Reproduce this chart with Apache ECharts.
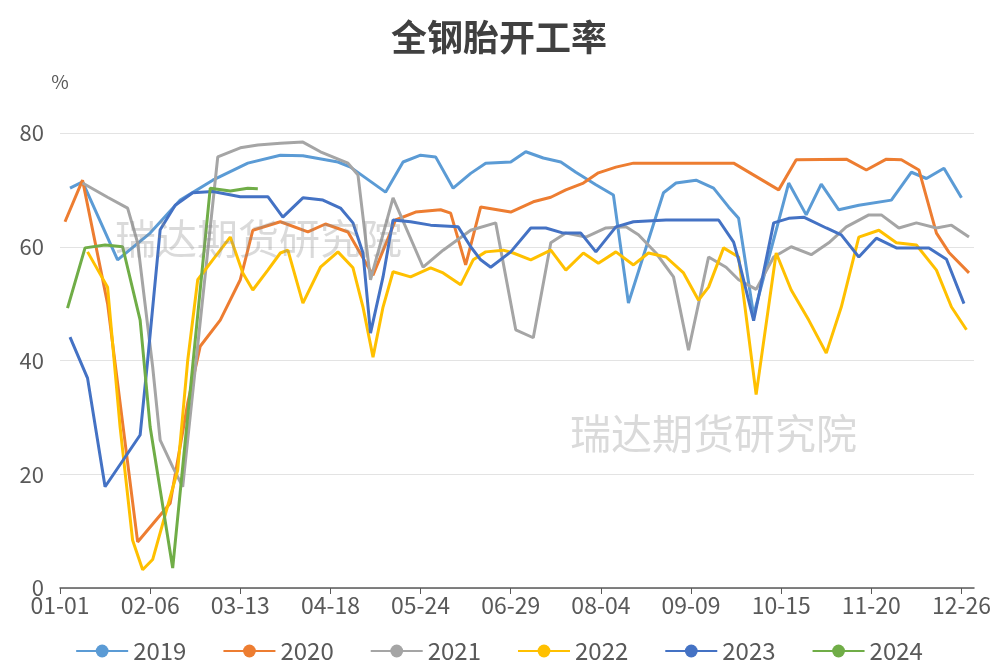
<!DOCTYPE html>
<html><head><meta charset="utf-8">
<script src="https://cdn.jsdelivr.net/npm/echarts@6/dist/echarts.min.js"></script>
<style>html,body{margin:0;padding:0;background:#fff}#c{width:998px;height:666px}</style>
</head><body><div id="c"></div>
<script>
const title = '全钢胎开工率';
const seriesNames = ['2019','2020','2021','2022','2023','2024'];
const monthDays = [31,29,31,30,31,30,31,31,30,31,30,31];
const yTicks = [0,20,40,60,80];

const s2019 = [['01-05',70.3],['01-10',71.4],['01-24',57.7],['02-06',62.4],['02-18',68.2],['03-02',71.7],['03-16',74.7],['03-29',76.1],['04-07',76.0],['04-21',74.9],['04-26',74.0],['05-10',69.6],['05-17',74.9],['05-24',76.1],['05-30',75.8],['06-06',70.3],['06-13',72.9],['06-19',74.7],['06-29',74.9],['07-05',76.7],['07-12',75.6],['07-19',74.9],['07-25',73.1],['08-02',70.9],['08-09',69.1],['08-15',50.1],['08-29',69.5],['09-03',71.2],['09-11',71.7],['09-18',70.3],['09-24',67.0],['09-28',65.0],['10-04',48.0],['10-18',71.2],['10-25',65.6],['10-31',71.0],['11-07',66.5],['11-15',67.3],['11-28',68.2],['12-06',73.1],['12-12',72.0],['12-19',73.8],['12-26',68.6]];
const s2020 = [['01-03',64.4],['01-10',71.7],['01-20',50.0],['02-01',8.1],['02-14',14.9],['02-21',32.5],['02-26',42.5],['03-05',47.1],['03-13',54.2],['03-18',62.9],['03-29',64.4],['04-09',62.6],['04-16',64.0],['04-25',62.6],['05-05',55.0],['05-14',64.7],['05-22',66.1],['06-01',66.5],['06-05',65.9],['06-11',56.8],['06-17',67.0],['06-29',66.1],['07-08',67.9],['07-15',68.7],['07-21',70.0],['07-28',71.2],['08-03',73.0],['08-10',74.0],['08-17',74.7],['08-30',74.7],['09-12',74.7],['09-26',74.7],['10-14',70.0],['10-21',75.3],['11-10',75.4],['11-18',73.5],['11-26',75.4],['12-02',75.3],['12-09',73.5],['12-16',62.4],['12-21',59.0],['12-29',55.4]];
const s2021 = [['01-10',71.2],['01-20',68.7],['01-28',66.8],['02-01',60.7],['02-07',38.9],['02-10',26.0],['02-15',21.3],['02-19',17.8],['03-04',75.8],['03-13',77.4],['03-20',77.9],['03-29',78.2],['04-07',78.4],['04-14',76.7],['04-25',74.7],['04-29',72.6],['05-04',54.2],['05-13',68.6],['05-25',56.4],['06-02',59.4],['06-13',62.9],['06-23',64.2],['07-01',45.4],['07-08',44.0],['07-15',60.7],['07-21',62.4],['07-29',61.7],['08-06',63.3],['08-14',63.5],['08-19',62.1],['08-26',58.9],['09-02',54.7],['09-08',41.8],['09-16',58.2],['09-23',56.4],['09-28',54.2],['10-05',52.5],['10-12',58.2],['10-19',60.0],['10-27',58.6],['11-03',60.7],['11-10',63.5],['11-19',65.6],['11-24',65.6],['12-01',63.3],['12-08',64.2],['12-16',63.3],['12-22',63.8],['12-29',61.7]];
const s2022 = [['01-12',59.1],['01-20',52.9],['01-25',28.3],['01-30',8.4],['02-03',3.2],['02-07',5.0],['02-17',20.7],['02-21',40.0],['02-25',54.2],['03-02',57.7],['03-09',61.7],['03-14',55.4],['03-18',52.4],['03-24',55.9],['03-29',58.9],['04-01',59.4],['04-07',50.1],['04-14',56.4],['04-21',59.1],['04-27',56.3],['05-01',49.4],['05-05',40.6],['05-09',49.4],['05-13',55.6],['05-20',54.7],['05-28',56.3],['06-02',55.4],['06-09',53.3],['06-14',57.7],['06-19',59.1],['06-26',59.4],['06-30',58.9],['07-07',57.7],['07-15',59.4],['07-21',55.9],['07-28',58.9],['08-03',57.1],['08-10',59.1],['08-17',56.8],['08-23',58.9],['08-30',58.2],['09-06',55.4],['09-12',50.6],['09-16',52.9],['09-22',59.8],['09-28',58.2],['10-05',34.0],['10-13',58.9],['10-19',52.4],['10-26',47.1],['11-02',41.3],['11-08',49.4],['11-15',61.7],['11-23',62.9],['11-30',60.7],['12-08',60.3],['12-16',55.9],['12-22',49.4],['12-28',45.4]];
const s2023 = [['01-05',44.1],['01-12',36.9],['01-19',17.8],['02-02',26.9],['02-05',40.0],['02-10',63.0],['02-16',67.3],['02-23',69.5],['03-02',69.7],['03-13',68.8],['03-24',68.8],['03-30',65.2],['04-07',68.6],['04-15',68.2],['04-22',66.8],['04-27',64.2],['05-01',58.9],['05-04',44.8],['05-09',54.7],['05-13',64.7],['05-20',64.4],['05-28',63.8],['06-08',63.5],['06-13',60.0],['06-17',57.7],['06-21',56.4],['06-29',59.1],['07-07',63.3],['07-13',63.3],['07-20',62.4],['07-27',62.4],['08-02',59.1],['08-10',63.5],['08-17',64.4],['08-30',64.7],['09-12',64.7],['09-20',64.7],['09-26',60.8],['09-28',57.7],['10-04',47.0],['10-12',64.2],['10-18',65.0],['10-24',65.2],['11-02',63.3],['11-08',62.1],['11-15',58.2],['11-22',61.5],['11-30',59.8],['12-13',59.8],['12-20',57.8],['12-27',50.0]];
const s2024 = [['01-04',49.2],['01-11',59.8],['01-19',60.3],['01-26',60.0],['02-02',47.1],['02-06',28.3],['02-15',3.5],['03-01',70.3],['03-09',69.8],['03-16',70.3],['03-20',70.2]];

const colors = ['#5B9BD5','#ED7D31','#A5A5A5','#FFC000','#4472C4','#70AD47'];
const allData = [s2019,s2020,s2021,s2022,s2023,s2024];

const categories = [];
monthDays.forEach((n,m)=>{for(let d=1;d<=n;d++){categories.push(String(m+1).padStart(2,'0')+'-'+String(d).padStart(2,'0'));}});

const font = '"Noto Sans CJK SC","Noto Sans",sans-serif';
const chart = echarts.init(document.getElementById('c'));
chart.setOption({
  animation:false,
  color: colors,
  textStyle:{fontFamily:font},
  title:{text:title,left:'center',top:14,textStyle:{fontSize:36,fontWeight:'bold',color:'#404040',fontFamily:font}},
  grid:{left:60,right:24,top:133,bottom:78,containLabel:false},
  legend:{bottom:-2,left:'center',itemWidth:52,itemHeight:16,itemGap:36,
    textStyle:{fontSize:24,color:'#595959',fontFamily:font},data:seriesNames},
  xAxis:{type:'category',data:categories,boundaryGap:false,
    axisLine:{lineStyle:{color:'#595959',width:1.5}},
    axisTick:{interval:35,length:6,lineStyle:{color:'#595959'}},
    axisLabel:{interval:35,fontSize:23,color:'#595959',margin:6,fontFamily:font}},
  yAxis:{type:'value',min:0,max:80,interval:20,name:'%',
    nameTextStyle:{fontSize:19,color:'#595959',padding:[0,0,12,0],align:'center'},
    nameGap:30,
    axisLine:{show:false},axisTick:{show:false},
    axisLabel:{fontSize:22,color:'#595959',margin:16},
    splitLine:{lineStyle:{color:'#e3e3e3',width:1}}},
  graphic:[
    {type:'text',left:115,top:218,z:100,silent:true,style:{text:'瑞达期货研究院',font:'41px "Noto Sans CJK SC"',fill:'rgba(140,140,140,0.32)'}},
    {type:'text',left:570,top:413,z:100,silent:true,style:{text:'瑞达期货研究院',font:'41px "Noto Sans CJK SC"',fill:'rgba(140,140,140,0.32)'}}
  ],
  series: seriesNames.map((n,i)=>({name:n,type:'line',data:allData[i],connectNulls:true,
    symbol:'circle',symbolSize:14,showSymbol:false,lineStyle:{width:3},itemStyle:{color:colors[i]}}))
});
</script></body></html>
